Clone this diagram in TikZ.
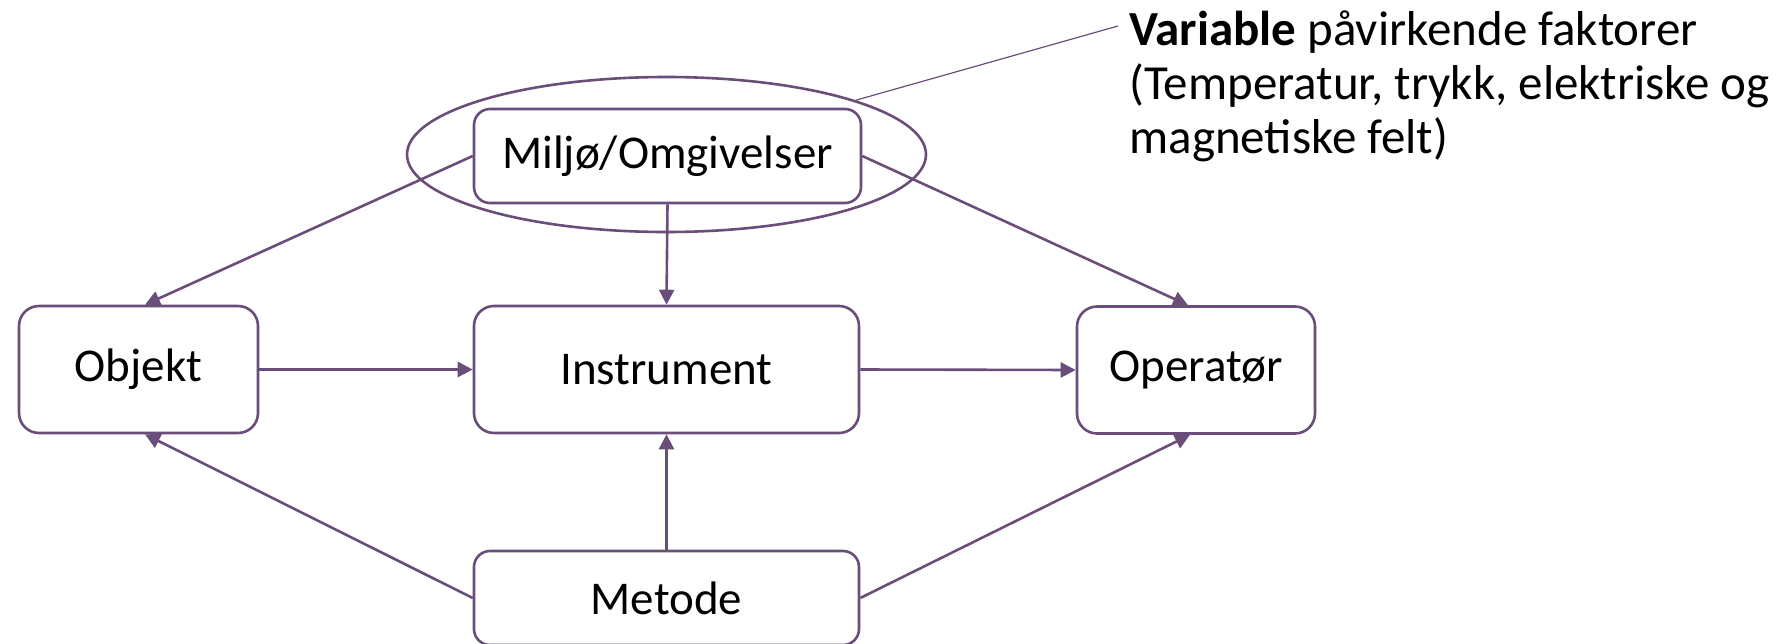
\documentclass[tikz,border=0pt]{standalone}
\usepackage{fontspec}
\setmainfont{Carlito}
\usetikzlibrary{arrows.meta,shapes.geometric}
\definecolor{plum}{RGB}{106,78,122}
\begin{document}
\begin{tikzpicture}[x=0.5pt,y=-0.5pt,
  box/.style={draw=plum,line width=1.3pt,fill=white,rounded corners=10pt,
    minimum height=63.5pt,inner sep=0pt,text=black,
    font=\fontsize{23.5}{27}\selectfont},
  flatbox/.style={box,minimum height=47pt,rounded corners=8pt},
  arr/.style={draw=plum,line width=1.3pt,-{Triangle[length=7.5pt,width=7.5pt]}},
  lead/.style={draw=plum,line width=0.6pt}]
\useasboundingbox (0,0) rectangle (1784,643);
\node[draw=plum,line width=1.3pt,ellipse,minimum width=259.5pt,minimum height=77.5pt,inner sep=0pt] (env) at (666.5,154.5) {};
\node[flatbox,minimum width=193.5pt] (miljo) at (667.5,156) {Miljø/Omgivelser};
\node[box,minimum width=119.5pt] (objekt) at (138.5,369.5) {Objekt};
\node[box,minimum width=192.5pt] (instrument) at (666.5,369.5) {Instrument};
\node[box,minimum width=119pt] (operator) at (1196,370) {Operatør};
\node[flatbox,minimum width=192.5pt] (metode) at (666.5,598) {Metode};
\node[anchor=base west,align=left,inner sep=0pt,text=black,
  font=\fontsize{24.5}{27}\selectfont] (label) at (1129,153)
  {\textbf{Variable} påvirkende faktorer\\(Temperatur, trykk, elektriske og\\magnetiske felt)};
\coordinate (lblpt) at (1118,26);
\draw[lead] (env.16.6) -- (lblpt);
\draw[arr] (miljo.south) -- (instrument.north);
\draw[arr] (miljo.west) -- ([xshift=3.25pt]objekt.north);
\draw[arr] (miljo.east) -- ([xshift=-4pt]operator.north);
\draw[arr] (objekt.east) -- (instrument.west);
\draw[arr] (instrument.east) -- (operator.west);
\draw[arr] (metode.west) -- ([xshift=3.25pt]objekt.south);
\draw[arr] (metode.north) -- (instrument.south);
\draw[arr] (metode.east) -- ([xshift=-3pt]operator.south);
\end{tikzpicture}
\end{document}
